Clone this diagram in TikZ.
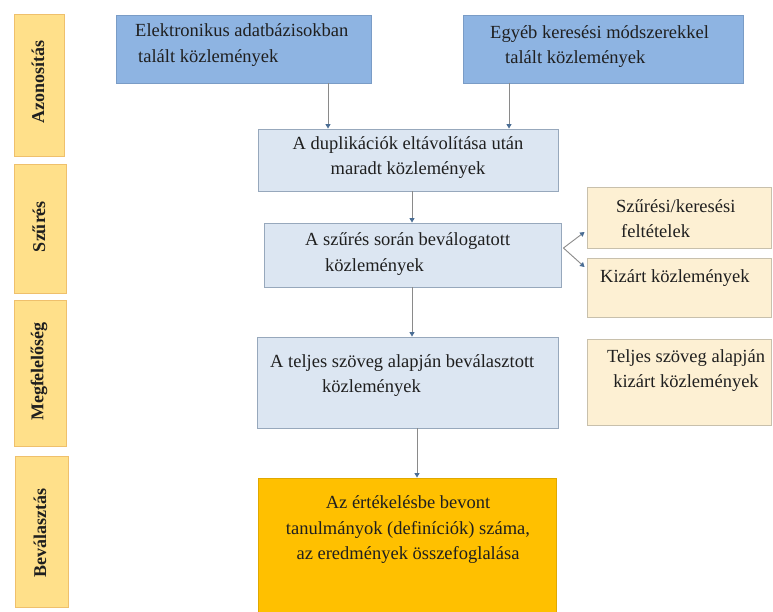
\documentclass[tikz,border=0pt]{standalone}
\usepackage{fontspec}
\setmainfont{Liberation Serif}
\usetikzlibrary{arrows.meta}
\definecolor{topblue}{HTML}{8EB4E2}
\definecolor{topblueb}{HTML}{7A9CC6}
\definecolor{lightblue}{HTML}{DCE6F2}
\definecolor{lightblueb}{HTML}{97A8BC}
\definecolor{cream}{HTML}{FDF0D3}
\definecolor{creamb}{HTML}{C8C0AC}
\definecolor{sideyel}{HTML}{FFE08A}
\definecolor{sideyelb}{HTML}{EFC06C}
\definecolor{finalor}{HTML}{FFC000}
\definecolor{finalorb}{HTML}{E0A800}
\definecolor{txt}{HTML}{1F1F1F}
\definecolor{linegray}{HTML}{8A8A8A}
\definecolor{tipblue}{HTML}{4A6D94}
\tikzset{
  boxbase/.style={rectangle, inner sep=0pt, line width=0.9pt},
  topbox/.style={boxbase, fill=topblue, draw=topblueb},
  lbbox/.style={boxbase, fill=lightblue, draw=lightblueb},
  crbox/.style={boxbase, fill=cream, draw=creamb},
  sidebox/.style={boxbase, fill=sideyel, draw=sideyelb},
  finbox/.style={boxbase, fill=finalor, draw=finalorb},
  maintext/.style={inner sep=0pt, text=txt, font=\fontsize{18.5}{25.5}\selectfont},
  sidetext/.style={inner sep=0pt, text=txt, rotate=90, font=\fontsize{18}{20}\selectfont\bfseries},
  arr/.style={draw=linegray, line width=0.9pt, -{Triangle[width=5pt,length=4.5pt,color=tipblue]}}
}
\begin{document}
\begin{tikzpicture}[x=1pt,y=-1pt]
\useasboundingbox (0,0) rectangle (773,611);
% side boxes
\node[sidebox, minimum width=50pt, minimum height=142pt] (sazon) at (39,85) {};
\node[sidebox, minimum width=52pt, minimum height=129pt] (sszur) at (40,228.5) {};
\node[sidebox, minimum width=52pt, minimum height=146pt] (smegf) at (40,373) {};
\node[sidebox, minimum width=53pt, minimum height=151pt] (sbeva) at (41.5,531.5) {};
\node[sidetext] (tazon) at (38,81.5) {Azonosítás};
\node[sidetext] (tszur) at (39,226.5) {Szűrés};
\node[sidetext] (tmegf) at (39,371.5) {Megfelelőség};
\node[sidetext] (tbeva) at (40,532.5) {Beválasztás};
% main boxes
\node[topbox, minimum width=255pt, minimum height=68pt] (elek) at (243.5,49) {};
\node[topbox, minimum width=280pt, minimum height=68pt] (egyeb) at (603,49) {};
\node[lbbox, minimum width=300pt, minimum height=62pt] (dup) at (408,160) {};
\node[lbbox, minimum width=297pt, minimum height=64pt] (szbox) at (412.5,255) {};
\node[lbbox, minimum width=301pt, minimum height=91pt] (telj) at (407.5,382.5) {};
\node[finbox, minimum width=298pt, minimum height=134pt] (fin) at (407,545) {};
\node[crbox, minimum width=184pt, minimum height=61pt] (r1) at (679,217.5) {};
\node[crbox, minimum width=184pt, minimum height=59pt] (r2) at (679,287.5) {};
\node[crbox, minimum width=184pt, minimum height=86pt] (r3) at (679,382) {};
% texts
\node[maintext, anchor=west, align=left] (telek) at (135,45) {Elektronikus adatbázisokban\\\hspace{3pt}talált közlemények};
\node[maintext, anchor=west, align=left] (tegyeb) at (490,46.5) {Egyéb keresési módszerekkel\\\hspace{15pt}talált közlemények};
\node[maintext, align=center] (tdup) at (408,157.5) {A duplikációk eltávolítása után\\maradt közlemények};
\node[maintext, anchor=west, align=left] (tszbox) at (305,254) {A szűrés során beválogatott\\\hspace{20pt}közlemények};
\node[maintext, anchor=west, align=left] (ttelj) at (270,375.5) {A teljes szöveg alapján beválasztott\\\hspace{52pt}közlemények};
\node[maintext, align=center] (tfin) at (408,530) {Az értékelésbe bevont\\tanulmányok (definíciók) száma,\\az eredmények összefoglalása};
\node[maintext, anchor=west, align=left] (tr1) at (616,218.5) {Szűrési/keresési\\\hspace{5pt}feltételek};
\node[maintext, anchor=west] (tr2) at (600,278) {Kizárt közlemények};
\node[maintext, align=center] (tr3) at (686,370.5) {Teljes szöveg alapján\\kizárt közlemények};
% connectors
\draw[arr] ([xshift=84.5pt]elek.south) -- ([xshift=84.5pt]elek.south |- dup.north);
\draw[arr] ([xshift=-94pt]egyeb.south) -- ([xshift=-94pt]egyeb.south |- dup.north);
\draw[arr] ([xshift=4pt]dup.south) -- ([xshift=4pt]dup.south |- szbox.north);
\draw[arr] ([xshift=-0.5pt]szbox.south) -- ([xshift=-0.5pt]szbox.south |- telj.north);
\draw[arr] ([xshift=9.5pt]telj.south) -- ([xshift=9.5pt]telj.south |- fin.north);
\coordinate (br) at ([xshift=2pt,yshift=7pt]szbox.east);
\draw[arr] (br) -- ([xshift=-2pt,yshift=-14.5pt]r1.west);
\draw[arr] (br) -- ([xshift=-2pt,yshift=20.5pt]r2.west);
\end{tikzpicture}
\end{document}
